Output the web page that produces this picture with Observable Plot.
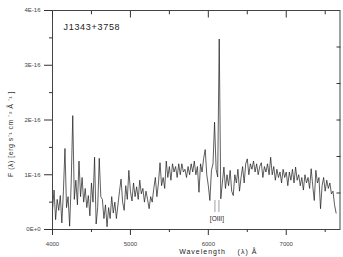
<!DOCTYPE html>
<html><head><meta charset="utf-8">
<script src="https://cdn.jsdelivr.net/npm/d3@7"></script>
<script src="https://cdn.jsdelivr.net/npm/@observablehq/plot@0.6"></script>
<style>body{margin:0;background:#fff} svg{display:block}</style>
</head><body><div id="chart"></div>
<script>
// Spectrum: flux in units of 1E-16 erg s^-1 cm^-2 Å^-1, sampled every 20 Å from 4000 Å
const lambdaStart = 4000, lambdaStep = 20;
const flux = [
 0.35,0.72,0.18,0.55,0.35,0.62,0.12,0.7,1.48,0.4,
 0.6,0.06,0.85,2.08,0.55,0.9,0.45,1.25,0.6,0.95,
 0.5,0.75,0.4,0.62,0.25,0.85,0.5,1.32,0.1,0.4,
 1.3,0.6,0.55,0.2,0.45,0.05,0.4,0.2,0.6,0.3,
 0.5,0.2,0.45,0.7,0.92,0.5,0.35,0.8,0.55,1.08,
 0.7,0.52,0.85,0.6,0.78,0.55,0.9,0.65,0.75,0.5,
 0.7,0.55,0.38,0.6,0.5,0.75,0.95,0.6,0.85,1.22,
 0.8,0.95,0.75,1.25,0.95,1.15,0.9,1.2,1.05,1.15,
 0.95,1.2,1.0,1.2,1.05,1.1,0.95,1.15,1.0,1.2,
 1.05,1.25,1.0,1.15,0.68,1.2,1.05,1.3,1.46,1.0,
 0.8,0.53,1.08,1.2,1.96,1.1,0.96,3.48,0.56,0.85,
 1.14,0.75,1.0,0.8,1.08,0.7,0.62,1.0,0.85,1.1,
 0.7,0.95,1.15,0.85,1.2,1.29,1.0,1.2,1.1,1.25,
 1.05,1.2,1.0,1.15,1.22,0.95,1.15,1.05,1.2,1.0,
 1.32,1.0,1.15,0.9,1.1,0.95,1.05,0.85,1.1,0.95,
 1.05,0.8,1.05,0.9,1.1,0.85,1.14,0.9,1.0,0.8,
 0.95,0.72,1.0,0.85,0.95,0.75,1.11,0.8,0.53,1.08,
 0.85,0.95,0.38,0.8,0.95,0.7,0.9,0.75,0.85,0.65,
 0.7,0.45,0.3
];
const xMajorTicks = [4000, 5000, 6000, 7000];
const xMinorTicks = [4500, 5500, 6500, 7500];
const yMajorTicks = [0, 1, 2, 3, 4];
const yMinorTicks = [0.5, 1.5, 2.5, 3.5];
const yRightTicks = [2/3, 4/3, 2, 8/3, 10/3];
const oiiiLines = [6085, 6136];
const oiiiLabel = ["[OIII]"];
const titleText = ["J1343+3758"];
const xLabel = ["Wavelength\u00a0\u00a0\u00a0\u00a0(\u03bb)\u00a0\u00c5"];
const yLabel = ["F (\u03bb) [erg s\u207b\u00b9 cm \u207b\u00b2 \u00c5 \u207b\u00b9 ]"];

const spectrum = flux.map((f, i) => ({wavelength: lambdaStart + i * lambdaStep, flux: f}));
const font = "'Liberation Sans', Arial, sans-serif";
const fmt = d => d === 0 ? "0E+0" : `${d}E-16`;

const svg = Plot.plot({
  width: 343, height: 257,
  marginTop: 10, marginLeft: 52, marginRight: 3.5, marginBottom: 28,
  x: {domain: [4000, 7690]},
  y: {domain: [0, 4]},
  style: {fontFamily: font, background: "white", color: "#333"},
  marks: [
    Plot.line(spectrum, {x: "wavelength", y: "flux", stroke: "#1a1a1a", strokeWidth: 0.7}),
    Plot.frame({stroke: "#444", strokeWidth: 1}),
    Plot.axisY(yMajorTicks, {anchor: "left", tickSize: 8, tickPadding: 4, tickFormat: fmt, fontSize: 6, fill: "#444", label: null}),
    Plot.axisY(yMinorTicks, {anchor: "left", tickSize: 3, tickFormat: () => "", label: null}),
    Plot.axisY(yRightTicks, {anchor: "right", tickSize: -4, tickFormat: () => "", label: null}),
    Plot.axisX(xMajorTicks, {anchor: "bottom", tickSize: 6, tickPadding: 6, tickFormat: d => String(d), fontSize: 6, fill: "#444", label: null}),
    Plot.axisX(xMinorTicks, {anchor: "bottom", tickSize: 3, tickFormat: () => "", label: null}),
    Plot.axisX(xMajorTicks, {anchor: "top", tickSize: -6.5, tickFormat: () => "", label: null}),
    Plot.axisX(xMinorTicks, {anchor: "top", tickSize: -3.3, tickFormat: () => "", label: null}),
    Plot.ruleX(oiiiLines, {x: d => d, y1: 0.31, y2: 0.53, stroke: "#888", strokeWidth: 0.8}),
    Plot.text(oiiiLabel, {x: 6110, y: 0.2, text: d => d, fontSize: 6.5, fill: "#222"}),
    Plot.text(titleText, {frameAnchor: "top-left", dx: 11, dy: 13, text: d => d, fontSize: 9, fill: "#222"}),
    Plot.text(xLabel, {frameAnchor: "bottom", dx: 22, dy: 24, text: d => d, fontSize: 7, fill: "#222"}),
    Plot.text(yLabel, {frameAnchor: "left", textAnchor: "middle", lineAnchor: "middle", dx: -42, dy: 14, rotate: -90, text: d => d, fontSize: 7, fill: "#333"})
  ]
});
d3.select(svg).selectAll("text").each(function() {
  const t = this.textContent;
  if (t === titleText[0]) this.setAttribute("letter-spacing", "0.7");
  if (t === xLabel[0]) this.setAttribute("letter-spacing", "1");
  if (t === yLabel[0]) this.setAttribute("letter-spacing", "0.5");
});
document.getElementById("chart").append(svg);
</script>
</body></html>
